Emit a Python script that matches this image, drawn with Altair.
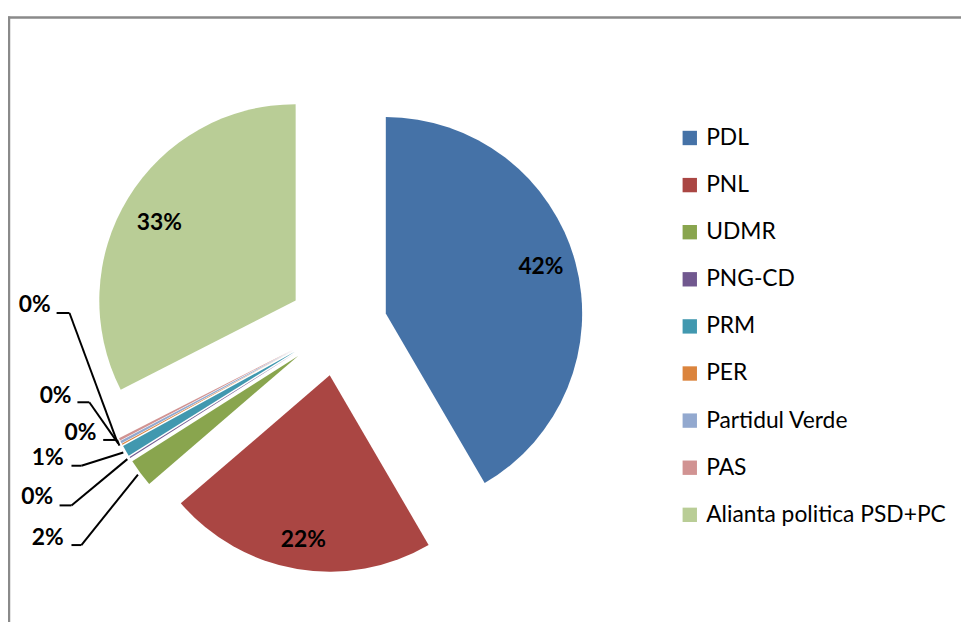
import altair as alt
import pandas as pd

# ---- data ----
parties = ["PDL", "PNL", "UDMR", "PNG-CD", "PRM", "PER", "Partidul Verde", "PAS",
           "Alianta politica PSD+PC"]
shares = [41.6, 22.1, 2.3, 0.1, 0.9, 0.1, 0.2, 0.2, 32.5]
colors = ["#4572A7", "#AA4643", "#89A54E", "#71588F", "#4198AF", "#DB843D",
          "#93A9CF", "#D19392", "#B9CD96"]

# ---- layout (plot-area pixels) ----
CX, CY = 332.7, 318.5      # centre of the unexploded pie
EXPLODE = 50               # explosion distance of every slice
R = 198                    # slice radius
LABEL_R = 160              # distance of the inside labels from each slice's tip
LEADER_R = 201             # where leader lines touch the slices
FONT = "Lato"

# small nudges of the inside labels
inside_party = ["PDL", "PNL", "Alianta politica PSD+PC"]
inside_dx = [2, 0, -1]
inside_dy = [-5, 8, 6]

# call-out labels of the thin slices (label centre, elbow x0/x1, elbow y)
callout_party = ["UDMR", "PNG-CD", "PRM", "PER", "Partidul Verde", "PAS"]
callout_tx = [40, 29.5, 40, 73, 48, 27]
callout_ty = [532, 491, 451, 426, 389, 297]
callout_x0 = [64, 52, 64, 96, 70, 49]
callout_x1 = [74, 64, 74, 110, 82, 62]
callout_ly = [539, 499, 459, 433, 395, 305]

rows = []
for i, (p, s) in enumerate(zip(parties, shares)):
    row = {"party": p, "share": s, "idx": i, "ndx": 0, "ndy": 0}
    if p in inside_party:
        k = inside_party.index(p)
        row.update(ndx=inside_dx[k], ndy=inside_dy[k])
    if p in callout_party:
        k = callout_party.index(p)
        row.update(ctx=callout_tx[k], cty=callout_ty[k], cx0=callout_x0[k],
                   cx1=callout_x1[k], cly=callout_ly[k])
    rows.append(row)
df = pd.DataFrame(rows)

base = (
    alt.Chart(df)
    .transform_joinaggregate(total="sum(share)")
    .transform_window(cum="sum(share)", sort=[alt.SortField("idx")], frame=[None, 0])
    .transform_calculate(
        t1="datum.cum / datum.total * 2 * PI",
        t0="(datum.cum - datum.share) / datum.total * 2 * PI",
        mid="(datum.t0 + datum.t1) / 2",
        cx=f"{CX} + {EXPLODE} * sin(datum.mid)",
        cy=f"{CY} - {EXPLODE} * cos(datum.mid)",
        lx=f"datum.cx + {LABEL_R} * sin(datum.mid) + datum.ndx",
        ly=f"datum.cy - {LABEL_R} * cos(datum.mid) + datum.ndy",
        ex=f"datum.cx + {LEADER_R} * sin(datum.mid)",
        ey=f"datum.cy - {LEADER_R} * cos(datum.mid)",
        pct="format(round(datum.share), 'd') + '%'",
    )
)

color = alt.Color(
    "party:N",
    scale=alt.Scale(domain=parties, range=colors),
    legend=alt.Legend(
        title=None, orient="none", legendX=676, legendY=117, padding=0,
        symbolType="square", symbolSize=210, symbolStrokeWidth=0, symbolOpacity=1,
        labelFont=FONT, labelFontSize=23, labelColor="#000000", labelOffset=5,
        labelLimit=400, rowPadding=23.5,
    ),
)

px = lambda f: alt.X(f, scale=None, axis=None)
py = lambda f: alt.Y(f, scale=None, axis=None)

slices = base.mark_arc(radius=R).encode(
    x=px("cx:Q"), y=py("cy:Q"),
    theta=alt.Theta("t0:Q", scale=None, stack=None), theta2="t1:Q",
    color=color, order=alt.Order("idx:Q"),
)

inside = base.transform_filter("datum.share >= 5").mark_text(
    font=FONT, fontSize=23, fontWeight="bold", color="#000000", baseline="middle"
).encode(x=px("lx:Q"), y=py("ly:Q"), text="pct:N")

small = base.transform_filter("isValid(datum.cx0)")
elbow = small.mark_rule(color="#000000", strokeWidth=2).encode(
    x=px("cx0:Q"), x2="cx1:Q", y=py("cly:Q"))
leader = small.mark_rule(color="#000000", strokeWidth=2).encode(
    x=px("cx1:Q"), y=py("cly:Q"), x2="ex:Q", y2="ey:Q")
outside = small.mark_text(
    font=FONT, fontSize=23, fontWeight="bold", color="#000000", baseline="middle"
).encode(x=px("ctx:Q"), y=py("cty:Q"), text="pct:N")

frame_df = pd.DataFrame({"k": [0]})
frame_top = alt.Chart(frame_df).mark_rule(color="#8a8a8a", strokeWidth=2.5).encode(
    x=alt.value(0), x2=alt.value(1000), y=alt.value(7))
frame_left = alt.Chart(frame_df).mark_rule(color="#8a8a8a", strokeWidth=2.5).encode(
    x=alt.value(1), y=alt.value(6), y2=alt.value(700))

chart = (
    alt.layer(frame_top, frame_left, slices, elbow, leader, inside, outside)
    .properties(width=961, height=614, autosize="none", padding=0, background="white")
    .configure_view(stroke=None)
)

chart.save("out.html", embed_options={"renderer": "svg", "actions": False})
